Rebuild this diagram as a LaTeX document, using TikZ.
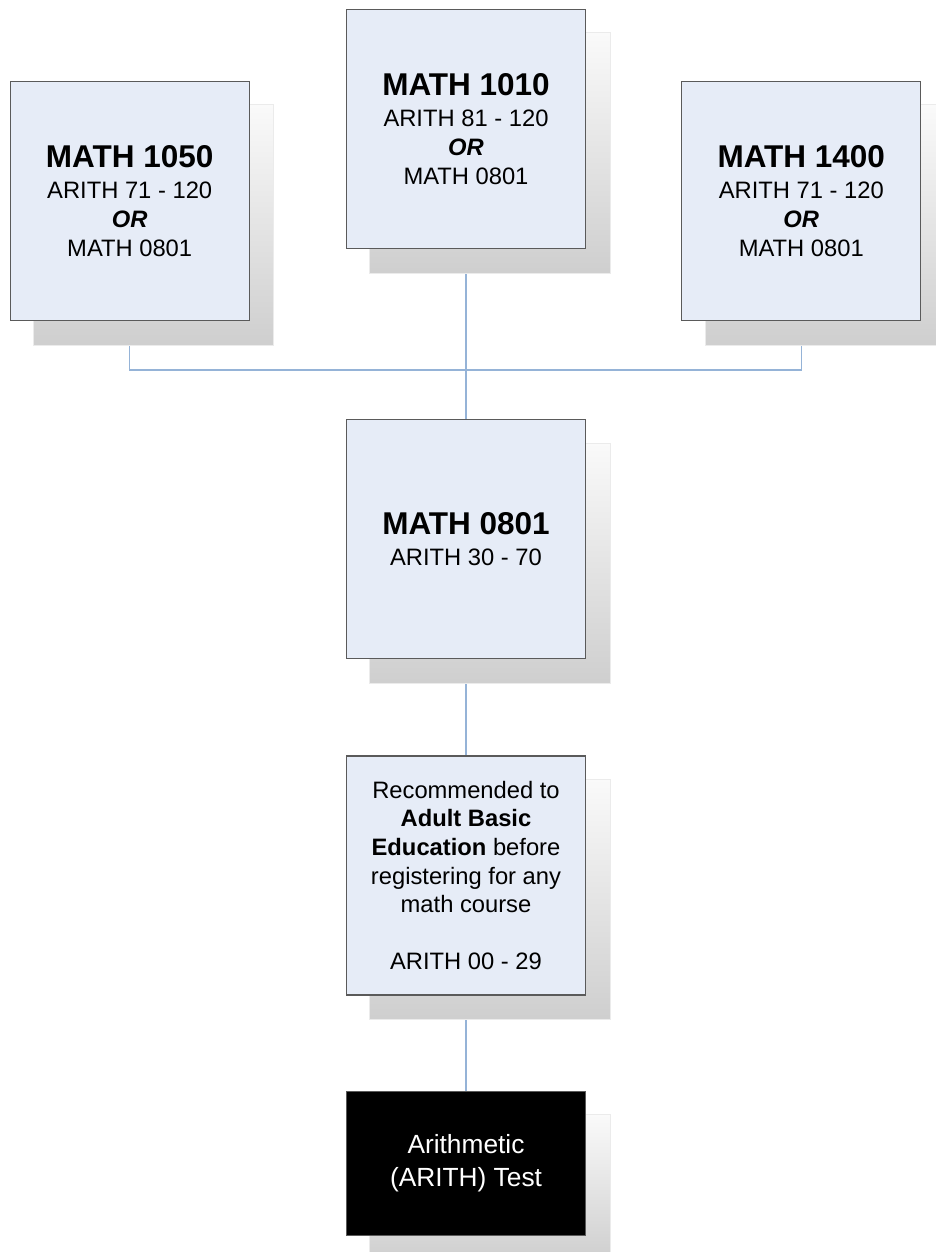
\documentclass[tikz,border=0pt]{standalone}
\usepackage{fontspec}
\setmainfont{Liberation Sans}
\usepackage{xcolor}
\usetikzlibrary{shapes, arrows, positioning, calc, backgrounds}
\definecolor{boxfill}{RGB}{230,236,247}
\definecolor{boxline}{RGB}{90,90,90}
\definecolor{linkblue}{RGB}{149,179,215}
\tikzstyle{course} = [rectangle, draw=boxline, line width=1.3pt, fill=boxfill, minimum width=239pt, minimum height=239pt, align=center, inner sep=0pt, font=\fontsize{23.75}{28.6}\selectfont]
\tikzstyle{link} = [draw=linkblue, line width=1.5pt]
\tikzstyle{shadowbox} = [draw=black!8, line width=0.8pt, top color=black!2, bottom color=black!19]
\newcommand{\ctitle}[1]{{\fontsize{31.5}{34}\selectfont\bfseries #1}}

\begin{document}
\begin{tikzpicture}[x=1pt, y=-1pt]
        \useasboundingbox (0,0) rectangle (935,1252);

        \node (m1010) [course] at (466,129) {\ctitle{MATH 1010}\\[2.5pt]ARITH 81 - 120\\\textbf{\textit{OR}}\\MATH 0801};
        \node (m1050) [course, left=96pt of m1010, yshift=-72pt] {\ctitle{MATH 1050}\\[2.5pt]ARITH 71 - 120\\\textbf{\textit{OR}}\\MATH 0801};
        \node (m1400) [course, right=95pt of m1010, yshift=-72pt] {\ctitle{MATH 1400}\\[2.5pt]ARITH 71 - 120\\\textbf{\textit{OR}}\\MATH 0801};
        \node (m0801) [course, below=170pt of m1010] {\ctitle{MATH 0801}\\[2.5pt]ARITH 30 - 70};
        \node (abe) [course, below=96pt of m0801] {Recommended to\\\textbf{Adult Basic}\\\textbf{Education} before\\registering for any\\math course\\[28.6pt]ARITH 00 - 29};
        \node (arith) [course, below=95pt of abe, fill=black, text=white, minimum height=144pt, font=\fontsize{26.3}{33}\selectfont] {Arithmetic\\(ARITH) Test};

        \coordinate (bus) at ($(m0801.north)+(0pt,49pt)$);

        \begin{scope}[on background layer]
            \draw [link] (m1050.south) |- (bus) -| (m1400.south);
            \draw [link] (m1010.south) -- (m0801.north);
            \draw [link] (m0801.south) -- (abe.north);
            \draw [link] (abe.south) -- (arith.north);
            \foreach \n in {m1050,m1010,m1400,m0801,abe,arith}
                \path [shadowbox] ($(\n.north west)+(24pt,-24pt)$) rectangle ($(\n.south east)+(24pt,-24pt)$);
        \end{scope}
    \end{tikzpicture}
\end{document}
